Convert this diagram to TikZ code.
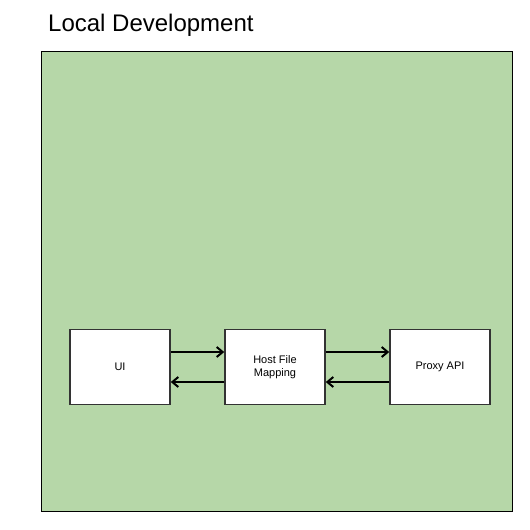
\documentclass[tikz,border=0pt]{standalone}
\usepackage{fontspec}
\setmainfont{Liberation Sans}
\usetikzlibrary{arrows.meta}
\definecolor{bggreen}{HTML}{B6D7A8}
\definecolor{boxline}{HTML}{333333}
\begin{document}
\begin{tikzpicture}[x=1pt,y=-1pt,
  box/.style={draw=boxline,line width=1.5pt,fill=white,minimum width=100pt,minimum height=75pt,inner sep=0pt,align=center,font=\fontsize{11}{13}\selectfont},
  conn/.style={line width=2pt,-{Straight Barb[length=6pt,width=10pt,line width=2pt]}}]
\useasboundingbox (0,0) rectangle (530,530);
\node[draw=black,line width=1pt,fill=bggreen,minimum width=471pt,minimum height=460pt,inner sep=0pt,anchor=north west] (frame) at (40.5,50.5) {};
\node[anchor=base west,inner sep=0pt,font=\fontsize{24}{28}\selectfont] (title) at (48,31) {Local Development};
\node[box] (ui) at (120,367) {UI};
\node[box] (host) at (275,367) {Host File\\Mapping};
\node[box] (proxy) at (440,367) {Proxy API};
\draw[conn] ([yshift=15pt]ui.east) -- ([yshift=15pt]host.west);
\draw[conn] ([yshift=-15pt]host.west) -- ([yshift=-15pt]ui.east);
\draw[conn] ([yshift=15pt]host.east) -- ([yshift=15pt]proxy.west);
\draw[conn] ([yshift=-15pt]proxy.west) -- ([yshift=-15pt]host.east);
\end{tikzpicture}
\end{document}
